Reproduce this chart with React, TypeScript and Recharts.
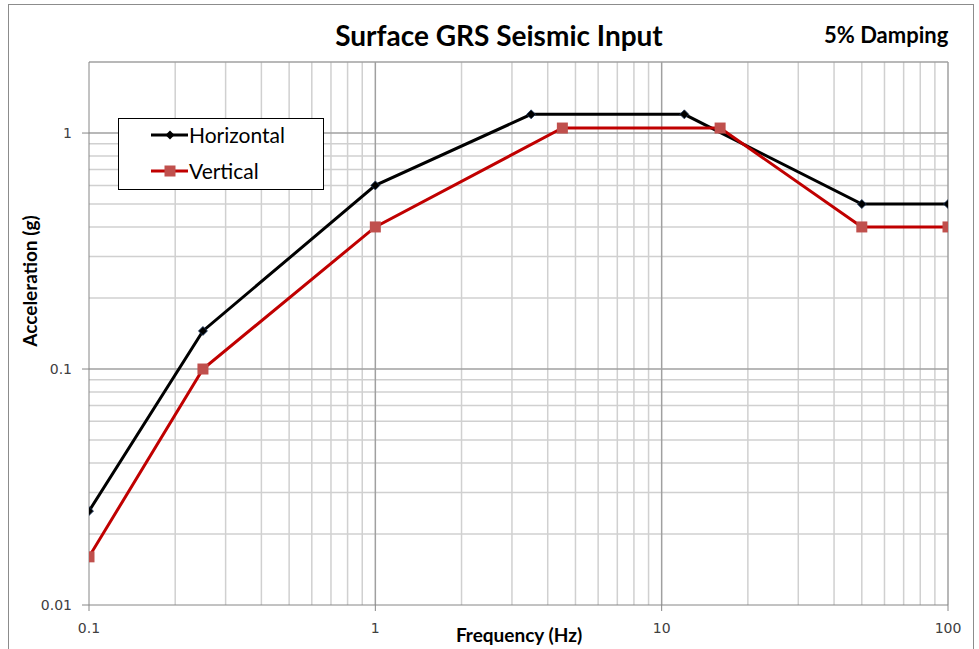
import React from "react";
import { LineChart, Line, XAxis, YAxis, ReferenceLine } from "recharts";

const freqHorizontal = [0.1, 0.25, 1, 3.5, 12, 50, 100];
const accHorizontal = [0.025, 0.145, 0.6, 1.2, 1.2, 0.5, 0.5];
const freqVertical = [0.1, 0.25, 1, 4.5, 16, 50, 100];
const accVertical = [0.016, 0.1, 0.4, 1.05, 1.05, 0.4, 0.4];

const xTicks = [0.1, 1, 10, 100];
const yTicks = [0.01, 0.1, 1];
const xMinorGrid = [0.2, 0.3, 0.4, 0.5, 0.6, 0.7, 0.8, 0.9, 2, 3, 4, 5, 6, 7, 8, 9, 20, 30, 40, 50, 60, 70, 80, 90];
const xMajorGrid = [1, 10];
const yMinorGrid = [0.02, 0.03, 0.04, 0.05, 0.06, 0.07, 0.08, 0.09, 0.2, 0.3, 0.4, 0.5, 0.6, 0.7, 0.8, 0.9];
const yMajorGrid = [0.1, 1];

const horizontalData = freqHorizontal.map((f, i) => ({ freq: f, acc: accHorizontal[i] }));
const verticalData = freqVertical.map((f, i) => ({ freq: f, acc: accVertical[i] }));

const W = 979;
const H = 649;
const FONT = "Lato, 'Open Sans', sans-serif";
const TICK_FONT = "'DejaVu Sans', Verdana, sans-serif";

const Diamond = (props: any) => {
  const { cx, cy, index } = props;
  if (cx == null || cy == null) return <g key={"d" + index} />;
  const r = 4.5;
  return (
    <path
      key={"d" + index}
      d={`M${cx},${cy - r}L${cx + r},${cy}L${cx},${cy + r}L${cx - r},${cy}Z`}
      fill="#000"
      stroke="#1f3b63"
      strokeWidth={0.8}
    />
  );
};

const Square = (props: any) => {
  const { cx, cy, index } = props;
  if (cx == null || cy == null) return <g key={"s" + index} />;
  const s = 11;
  return <rect key={"s" + index} x={cx - s / 2} y={cy - s / 2} width={s} height={s} fill="#c0504d" />;
};

const LegendBox = () => (
  <div
    style={{
      position: "absolute",
      left: 118,
      top: 118,
      width: 206,
      height: 72,
      border: "1.5px solid #000",
      background: "#fff",
      boxSizing: "border-box",
      fontFamily: FONT,
      fontSize: 21,
      color: "#000",
    }}
  >
    <svg width={200} height={68} style={{ position: "absolute", left: 0, top: 0 }}>
      <line x1={32} x2={69} y1={16} y2={16} stroke="#000" strokeWidth={3} />
      <path d="M51,11.5L55.5,16L51,20.5L46.5,16Z" fill="#000" />
      <line x1={32} x2={69} y1={52} y2={52} stroke="#c00000" strokeWidth={3} />
      <rect x={45.5} y={46.5} width={11} height={11} fill="#c0504d" />
    </svg>
    <div style={{ position: "absolute", left: 70, top: 3, lineHeight: "26px" }}>Horizontal</div>
    <div style={{ position: "absolute", left: 70, top: 39, lineHeight: "26px" }}>Vertical</div>
  </div>
);

export default function App() {
  return (
    <div style={{ position: "absolute", left: 0, top: 0, width: W, height: H, background: "#fff", overflow: "hidden" }}>
      <div
        style={{
          position: "absolute",
          left: 8,
          top: 4,
          width: 966,
          height: 700,
          border: "1px solid #8c8c8c",
          boxSizing: "border-box",
        }}
      />
      <LineChart
        width={W}
        height={H}
        margin={{ top: 62, right: 31, bottom: 14, left: 29 }}
        style={{ position: "absolute", left: 0, top: 0 }}
      >
        <XAxis
          dataKey="freq"
          type="number"
          scale="log"
          domain={[0.1, 100]}
          ticks={xTicks}
          allowDataOverflow
          height={30}
          tickSize={6}
          tickMargin={12}
          stroke="#868686"
          tick={{ fill: "#404040", fontSize: 14, fontFamily: TICK_FONT }}
          tickFormatter={(v: number) => String(v)}
        />
        <YAxis
          dataKey="acc"
          type="number"
          scale="log"
          domain={[0.01, 2]}
          ticks={yTicks}
          allowDataOverflow
          width={60}
          tickSize={7}
          tickMargin={10}
          stroke="#868686"
          tick={{ fill: "#404040", fontSize: 14, fontFamily: TICK_FONT }}
          tickFormatter={(v: number) => String(v)}
        />
        {xMinorGrid.map((v) => (
          <ReferenceLine key={"xm" + v} x={v} stroke="#d0d0d0" strokeWidth={1.5} />
        ))}
        {yMinorGrid.map((v) => (
          <ReferenceLine key={"ym" + v} y={v} stroke="#d0d0d0" strokeWidth={1.5} />
        ))}
        {xMajorGrid.map((v) => (
          <ReferenceLine key={"xM" + v} x={v} stroke="#a0a0a0" strokeWidth={1.5} />
        ))}
        {yMajorGrid.map((v) => (
          <ReferenceLine key={"yM" + v} y={v} stroke="#a0a0a0" strokeWidth={1.5} />
        ))}
        <ReferenceLine x={100} stroke="#a0a0a0" strokeWidth={1.5} />
        <ReferenceLine y={2} stroke="#a0a0a0" strokeWidth={1.5} />
        <Line
          data={horizontalData}
          dataKey="acc"
          name="Horizontal"
          stroke="#000"
          strokeWidth={3}
          dot={Diamond}
          activeDot={false}
          isAnimationActive={false}
        />
        <Line
          data={verticalData}
          dataKey="acc"
          name="Vertical"
          stroke="#c00000"
          strokeWidth={3}
          dot={Square}
          activeDot={false}
          isAnimationActive={false}
        />
      </LineChart>
      <LegendBox />
      <div
        style={{
          position: "absolute",
          left: 0,
          width: 998,
          top: 16,
          textAlign: "center",
          fontFamily: FONT,
          fontWeight: 700,
          fontSize: 28,
          color: "#000",
          lineHeight: "38px",
        }}
      >
        Surface GRS Seismic Input
      </div>
      <div
        style={{
          position: "absolute",
          left: 824,
          top: 20,
          fontFamily: FONT,
          fontWeight: 700,
          fontSize: 22,
          color: "#000",
          lineHeight: "30px",
          whiteSpace: "nowrap",
        }}
      >
        5% Damping
      </div>
      <div
        style={{
          position: "absolute",
          left: 0,
          width: 1038,
          top: 622,
          textAlign: "center",
          fontFamily: FONT,
          fontWeight: 700,
          fontSize: 19,
          color: "#000",
          lineHeight: "26px",
        }}
      >
        Frequency (Hz)
      </div>
      <div
        style={{
          position: "absolute",
          left: 30,
          top: 281,
          transform: "translate(-50%, -50%) rotate(-90deg)",
          fontFamily: FONT,
          fontWeight: 700,
          fontSize: 19,
          color: "#000",
          lineHeight: "26px",
          whiteSpace: "nowrap",
        }}
      >
        Acceleration (g)
      </div>
    </div>
  );
}
